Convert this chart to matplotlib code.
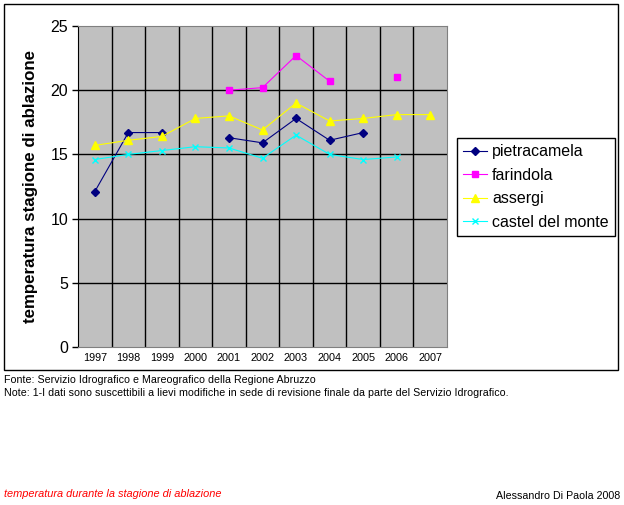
import matplotlib.pyplot as plt
import numpy as np
from matplotlib.patches import Rectangle

plt.rcParams['font.family'] = ['Liberation Sans', 'DejaVu Sans']

years = ['1997', '1998', '1999', '2000', '2001', '2002', '2003', '2004', '2005', '2006', '2007']
nan = np.nan
pietracamela = [12.1, 16.7, 16.7, nan, 16.3, 15.9, 17.8, 16.1, 16.7, nan, nan]
farindola = [nan, nan, nan, nan, 20.0, 20.2, 22.7, 20.7, nan, 21.0, nan]
assergi = [15.7, 16.1, 16.4, 17.8, 18.0, 16.9, 19.0, 17.6, 17.8, 18.1, 18.1]
castel_del_monte = [14.6, 15.0, 15.3, 15.6, 15.5, 14.7, 16.5, 15.0, 14.6, 14.8, nan]

fig = plt.figure(figsize=(6.24, 5.05), dpi=100)
# outer chart frame
fig.patches.append(Rectangle((4 / 624, 1 - 370 / 505), 614 / 624, 366 / 505,
                             transform=fig.transFigure, fill=False,
                             edgecolor='black', linewidth=1))

ax = fig.add_axes([78 / 624, 1 - 347 / 505, 369 / 624, 321 / 505])
ax.set_facecolor('#c0c0c0')
x = np.arange(len(years)) + 0.5

ax.plot(x, pietracamela, color='#000080', marker='D', markersize=4, linewidth=0.8, label='pietracamela')
ax.plot(x, farindola, color='#ff00ff', marker='s', markersize=5, linewidth=0.8, label='farindola')
ax.plot(x, assergi, color='#ffff00', marker='^', markersize=6, linewidth=0.8, label='assergi')
ax.plot(x, castel_del_monte, color='#00ffff', marker='x', markersize=5, linewidth=0.8,
        markeredgewidth=1, label='castel del monte')

ax.set_xlim(0, 11)
ax.set_ylim(0, 25)
ax.set_yticks([0, 5, 10, 15, 20, 25])
ax.set_xticks(x)
ax.set_xticklabels(years, fontsize=7.8)
ax.tick_params(axis='x', length=0, pad=4)
ax.tick_params(axis='y', length=4, width=1, labelsize=11.5, pad=3, direction='out')

for v in [5, 10, 15, 20]:
    ax.axhline(v, color='black', linewidth=1, zorder=1)
for v in range(1, 11):
    ax.axvline(v, color='black', linewidth=1, zorder=1)

for s in ['top', 'right', 'bottom']:
    ax.spines[s].set_color('#808080')
ax.spines['left'].set_color('black')

ax.set_ylabel('temperatura stagione di ablazione', fontsize=12.2, fontweight='bold', labelpad=9)

leg = fig.legend(loc='upper left', bbox_to_anchor=(457 / 624, 1 - 138 / 505),
                 fontsize=11.5, frameon=True, fancybox=False, edgecolor='black',
                 framealpha=1, handlelength=1.5, handletextpad=0.3,
                 borderpad=0.4, labelspacing=0.53, borderaxespad=0)
leg.get_frame().set_linewidth(1)

fig.text(4 / 624, 1 - 380 / 505, 'Fonte: Servizio Idrografico e Mareografico della Regione Abruzzo',
         fontsize=7.65, va='center')
fig.text(4 / 624, 1 - 393 / 505,
         'Note: 1-I dati sono suscettibili a lievi modifiche in sede di revisione finale da parte del Servizio Idrografico.',
         fontsize=7.65, va='center')
fig.text(4 / 624, 1 - 494 / 505, 'temperatura durante la stagione di ablazione',
         fontsize=7.9, style='italic', color='red', va='center')
fig.text(620 / 624, 1 - 496 / 505, 'Alessandro Di Paola 2008', fontsize=7.65, ha='right', va='center')

fig.savefig('out.png', dpi=100)
